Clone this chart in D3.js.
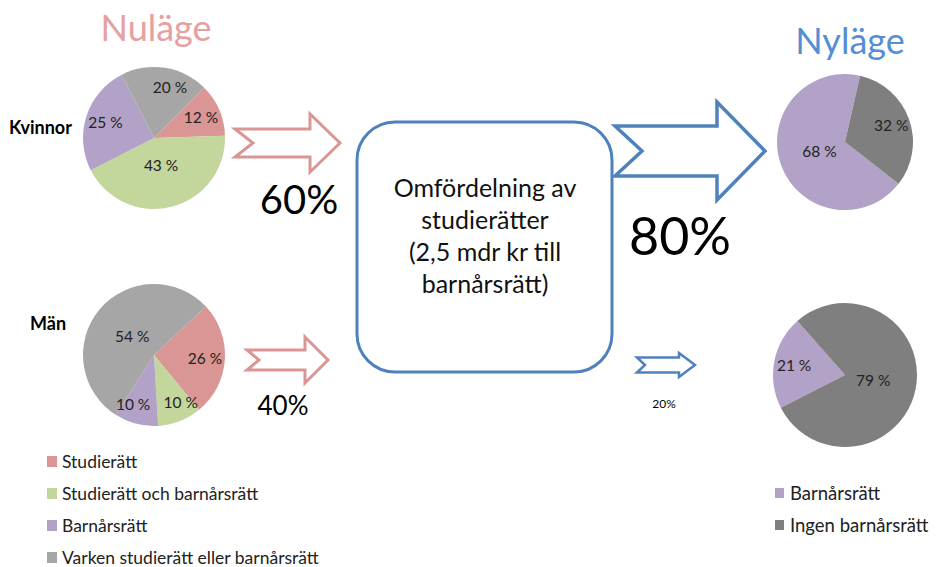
<!DOCTYPE html>
<html>
<head>
<meta charset="utf-8">
<script src="https://cdn.jsdelivr.net/npm/d3@7"></script>
<style>
  body { margin: 0; background: #fff; }
  svg { font-family: Lato, "Open Sans", sans-serif; }
</style>
</head>
<body>
<svg id="chart" width="936" height="567"></svg>
<script>
// data
const nuCategories = ['Studierätt', 'Studierätt och barnårsrätt', 'Barnårsrätt', 'Varken studierätt eller barnårsrätt']
const nuColors = ['#d99694', '#c3d69b', '#b3a2c7', '#a6a6a6']
const kvinnorValues = [12, 43, 25, 20]
const manValues = [26, 10, 10, 54]

const nyCategories = ['Barnårsrätt', 'Ingen barnårsrätt']
const nyColors = ['#b3a2c7', '#7f7f7f']
const nyKvinnorValues = [68, 32]
const nyManValues = [21, 79]

const groupLabels = ['Kvinnor', 'Män']
const flowLabels = ['60%', '40%', '80%', '20%']
const boxLines = ['Omfördelning av', 'studierätter', '(2,5 mdr kr till', 'barnårsrätt)']

const svg = d3.select('#chart')
const deg = Math.PI / 180

function drawPie(values, colors, cx, cy, r, start) {
  const pie = d3.pie().sort(null)
    .startAngle(start * deg).endAngle(start * deg + 2 * Math.PI)
  const arcs = pie(values)
  const arc = d3.arc().innerRadius(0).outerRadius(r)
  const g = svg.append('g').attr('transform', `translate(${cx},${cy})`)
  g.selectAll('path')
    .data(arcs)
    .join('path')
    .attr('d', arc)
    .attr('fill', (d, i) => colors[i])
  const total = d3.sum(values)
  g.selectAll('text')
    .data(arcs)
    .join('text')
    .attr('transform', d => {
      // big slices get their label nearer the middle, like excel does
      const big = d.data / total > 0.4
      const k = big ? 0.4 : 0.72
      const la = d3.arc().innerRadius(r * k).outerRadius(r * k)
      let [x, y] = la.centroid(d)
      // labels sitting near the vertical axis get pushed sideways so they don't collide
      if (!big && Math.abs(x) < 25) x += (x < 0 ? -8 : 8)
      return `translate(${x},${y})`
    })
    .attr('text-anchor', 'middle')
    .attr('dy', '0.35em')
    .attr('font-size', 15.5)
    .attr('fill', '#222')
    .text(d => d.data + ' %')
}

function arrow(x0, x1, cy, sh, hh, xh, notch, color, sw) {
  const p = d3.path()
  p.moveTo(x0, cy - sh)
  p.lineTo(xh, cy - sh)
  p.lineTo(xh, cy - hh)
  p.lineTo(x1, cy)
  p.lineTo(xh, cy + hh)
  p.lineTo(xh, cy + sh)
  p.lineTo(x0, cy + sh)
  p.lineTo(x0 + notch, cy)
  p.closePath()
  svg.append('path')
    .attr('d', p.toString())
    .attr('fill', '#fff')
    .attr('stroke', color)
    .attr('stroke-width', sw)
    .attr('stroke-linejoin', 'miter')
}

// titles
svg.append('text').attr('x', 156).attr('y', 41).attr('text-anchor', 'middle')
  .attr('font-size', 36).attr('fill', '#e6a09f').text('Nuläge')
svg.append('text').attr('x', 850).attr('y', 54).attr('text-anchor', 'middle')
  .attr('font-size', 36).attr('fill', '#558ed5').text('Nyläge')

// group labels
svg.append('text').attr('x', 9).attr('y', 134).attr('font-size', 18)
  .attr('font-weight', 'bold').text(groupLabels[0])
svg.append('text').attr('x', 30).attr('y', 330).attr('font-size', 18)
  .attr('font-weight', 'bold').text(groupLabels[1])

// pies
drawPie(kvinnorValues, nuColors, 154, 138, 71, 45)
drawPie(manValues, nuColors, 154, 355, 71, 47)
drawPie(nyKvinnorValues, nyColors, 845, 142, 68, 128)
drawPie(nyManValues, nyColors, 845, 375, 72, 243)

// arrows
arrow(235, 340, 143, 14, 29, 310, 18, '#d99694', 3)
arrow(247, 328, 360, 10, 23, 305, 12, '#d99694', 3)
arrow(615, 765, 151, 25, 49, 717, 27, '#4f81bd', 3.5)
arrow(637, 695, 365, 7.5, 12, 679, 8, '#4f81bd', 2.5)

// flow percentages
svg.append('text').attr('x', 299).attr('y', 214).attr('text-anchor', 'middle')
  .attr('font-size', 40).text(flowLabels[0])
svg.append('text').attr('x', 283).attr('y', 415).attr('text-anchor', 'middle')
  .attr('font-size', 26).text(flowLabels[1])
svg.append('text').attr('x', 680).attr('y', 255).attr('text-anchor', 'middle')
  .attr('font-size', 52).text(flowLabels[2])
svg.append('text').attr('x', 664).attr('y', 408).attr('text-anchor', 'middle')
  .attr('font-size', 12).text(flowLabels[3])

// central box
svg.append('rect').attr('x', 357).attr('y', 122).attr('width', 255).attr('height', 250)
  .attr('rx', 38).attr('fill', '#fff').attr('stroke', '#4f81bd').attr('stroke-width', 3)
svg.append('g').selectAll('text')
  .data(boxLines)
  .join('text')
  .attr('x', 485)
  .attr('y', (d, i) => 197 + i * 32)
  .attr('text-anchor', 'middle')
  .attr('font-size', 25)
  .attr('fill', '#111')
  .text(d => d)

// legends
const legL = svg.append('g').selectAll('g')
  .data(nuCategories)
  .join('g')
  .attr('transform', (d, i) => `translate(47,${456 + i * 32})`)
legL.append('rect').attr('width', 10).attr('height', 11).attr('fill', (d, i) => nuColors[i])
legL.append('text').attr('x', 15).attr('y', 12).attr('font-size', 17.5).attr('fill', '#222').text(d => d)

const legR = svg.append('g').selectAll('g')
  .data(nyCategories)
  .join('g')
  .attr('transform', (d, i) => `translate(775,${488 + i * 32})`)
legR.append('rect').attr('width', 9).attr('height', 10).attr('fill', (d, i) => nyColors[i])
legR.append('text').attr('x', 15).attr('y', 12).attr('font-size', 18.5).attr('fill', '#222').text(d => d)
</script>
</body>
</html>
